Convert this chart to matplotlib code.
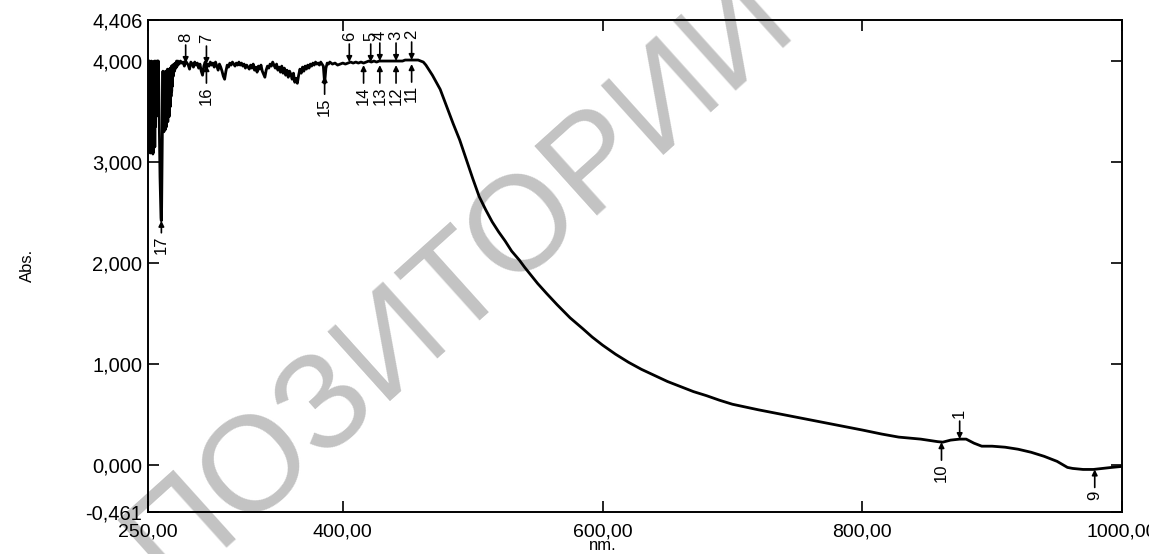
import matplotlib
matplotlib.use("Agg")
import matplotlib.pyplot as plt

# ---- data ----
# noisy start region
wl_start = [250.00, 250.25, 250.50, 250.75, 251.00, 251.25, 251.50, 251.75, 252.00, 252.25,
            252.50, 252.75, 253.00, 253.25, 253.50, 253.75, 254.00, 254.25, 254.50, 254.75,
            255.00, 255.25, 255.50, 255.75, 256.00, 256.25, 256.50, 256.75, 257.00, 257.25,
            257.50, 257.75, 258.00, 258.25, 258.50, 258.75, 259.00, 259.25, 259.50, 259.75,
            260.00, 260.25, 260.50, 260.75, 261.00, 261.25, 261.50, 261.75, 262.00, 262.25,
            262.50, 262.75, 263.00, 263.25, 263.50, 263.75, 264.00, 264.25, 264.50, 264.75,
            265.00, 265.25, 265.50, 265.75, 266.00, 266.25, 266.50, 266.75, 267.00, 267.25,
            267.50, 267.75, 268.00, 268.25, 268.50, 268.75, 269.00, 269.50, 270.00, 270.50,
            271.00, 271.50, 272.00, 272.50, 273.00]
ab_start = [4.00, 3.10, 3.98, 3.14, 4.00, 3.22, 3.95, 3.09, 3.92, 3.18,
            4.00, 3.12, 3.97, 3.25, 3.88, 3.08, 3.75, 3.10, 3.95, 3.30,
            4.00, 3.15, 3.90, 3.35, 4.00, 3.45, 3.98, 3.55, 4.00, 3.70,
            4.00, 3.85, 4.00, 3.80, 3.55, 3.30, 3.05, 2.85, 2.70, 2.55,
            2.45, 2.42, 2.55, 2.90, 3.30, 3.70, 3.90, 3.35, 3.85, 3.30,
            3.88, 3.40, 3.80, 3.32, 3.90, 3.45, 3.85, 3.35, 3.82, 3.50,
            3.92, 3.40, 3.85, 3.55, 3.90, 3.45, 3.88, 3.60, 3.93, 3.55,
            3.90, 3.65, 3.95, 3.70, 3.92, 3.75, 3.96, 3.85, 3.97, 3.90,
            3.98, 3.93, 4.00, 3.95, 4.00]
# saturated plateau
wl_plateau = [274, 275, 276, 277, 278, 279, 280, 281, 282, 283, 284, 285, 286, 287, 288,
              289, 290, 291, 292, 293, 294, 295, 296, 297, 298, 299, 300, 301, 302, 303,
              304, 305, 306, 307, 308, 309, 310, 311, 312, 313, 314, 315, 316, 317, 318,
              319, 320, 321, 322, 323, 324, 325, 326, 327, 328, 329, 330, 331, 332, 333,
              334, 335, 336, 337, 338, 339, 340, 341, 342, 343, 344, 345, 346, 347, 348,
              349, 350, 351, 352, 353, 354, 355, 356, 357, 358, 359, 360, 361, 362, 363,
              364, 365, 366, 367, 368, 369, 370, 371, 372, 373, 374, 375, 376, 377, 378,
              379, 380, 381, 382, 383, 384, 385, 386, 387, 388, 389, 390, 392, 394, 396,
              398, 400, 402, 404, 406, 408, 410, 412, 414, 416, 418, 420, 422, 424, 426,
              428, 430, 432, 434, 436, 438, 440, 442, 444, 446, 448, 450, 452, 454, 456,
              458, 460, 462]
ab_plateau = [3.97, 4.00, 3.98, 3.99, 3.95, 4.00, 3.98, 3.96, 3.92, 3.99, 3.97, 3.94, 3.99, 3.96, 3.98,
              3.93, 3.97, 3.90, 3.86, 3.95, 3.99, 3.93, 3.97, 3.95, 3.99, 3.96, 3.98, 3.94, 3.99, 3.95,
              3.91, 3.97, 3.94, 3.90, 3.85, 3.82, 3.90, 3.96, 3.94, 3.98, 3.96, 3.99, 3.97, 3.95, 3.98,
              3.96, 3.99, 3.96, 3.98, 3.95, 3.97, 3.93, 3.96, 3.94, 3.92, 3.96, 3.93, 3.97, 3.91, 3.94,
              3.89, 3.95, 3.92, 3.96, 3.90, 3.87, 3.84, 3.91, 3.95, 3.93, 3.97, 3.95, 3.99, 3.96, 3.93,
              3.97, 3.91, 3.94, 3.89, 3.95, 3.88, 3.93, 3.86, 3.91, 3.84, 3.90, 3.87, 3.82, 3.88, 3.79,
              3.83, 3.78, 3.86, 3.92, 3.88, 3.94, 3.90, 3.95, 3.92, 3.96, 3.93, 3.97, 3.95, 3.98, 3.96,
              3.99, 3.97, 3.98, 3.96, 3.99, 3.97, 3.95, 3.78, 3.93, 3.98, 3.97, 3.99, 3.97, 3.98, 3.96,
              3.97, 3.98, 3.97, 3.98, 3.99, 3.98, 3.99, 3.98, 3.99, 3.98, 3.99, 4.00, 3.99, 4.00, 3.99,
              4.00, 4.00, 4.00, 4.00, 4.00, 4.00, 4.00, 4.00, 4.00, 4.00, 4.01, 4.01, 4.01, 4.01, 4.01,
              4.01, 4.00, 3.99]
# absorption edge and tail
wl_tail = [464, 466, 469, 472, 475, 480, 485, 490, 495, 500, 505, 510, 515, 520, 525,
           530, 536, 540, 545, 550, 557, 565, 575, 585, 592, 600, 610, 620, 630, 640,
           650, 660, 670, 680, 690, 700, 720, 740, 760, 780, 800, 815, 828, 845, 858,
           862, 868, 875, 880, 886, 892, 900, 910, 920, 930, 940, 950, 958, 962, 970,
           978, 985, 992, 1000]
ab_tail = [3.96, 3.92, 3.86, 3.79, 3.72, 3.55, 3.38, 3.22, 3.03, 2.84, 2.66, 2.53,
           2.41, 2.31, 2.22, 2.12, 2.03, 1.96, 1.88, 1.80, 1.70, 1.59, 1.46, 1.35,
           1.27, 1.19, 1.10, 1.02, 0.95, 0.89, 0.83, 0.78, 0.73, 0.69, 0.645, 0.605,
           0.55, 0.50, 0.45, 0.40, 0.35, 0.31, 0.28, 0.26, 0.235, 0.23, 0.25, 0.26,
           0.26, 0.22, 0.19, 0.19, 0.18, 0.16, 0.13, 0.09, 0.04, -0.02, -0.03, -0.04,
           -0.04, -0.03, -0.02, -0.01]

# labelled peaks / valleys
peak_labels = ["1", "2", "3", "4", "5", "6", "7", "8", "9", "10", "11", "12", "13",
               "14", "15", "16", "17"]
peak_nm = [875, 453, 441, 428.5, 421.5, 405, 295, 279, 979, 861, 453, 441, 428.5,
           416, 386, 295, 260.3]
peak_abs = [0.26, 4.01, 4.00, 4.00, 3.99, 3.99, 3.97, 3.98, -0.04, 0.23, 3.97, 3.96,
            3.96, 3.96, 3.85, 3.96, 2.42]
peak_side = ["up", "up", "up", "up", "up", "up", "up", "up", "down", "down", "down",
             "down", "down", "down", "down", "down", "down"]

x_ticks = [250, 400, 600, 800, 1000]
x_tick_labels = ["250,00", "400,00", "600,00", "800,00", "1000,00"]
y_ticks = [-0.461, 0, 1, 2, 3, 4, 4.406]
y_tick_labels = ["-0,461", "0,000", "1,000", "2,000", "3,000", "4,000", "4,406"]

wl = wl_start + wl_plateau + wl_tail
ab = ab_start + ab_plateau + ab_tail

# ---- figure ----
plt.rcParams["font.family"] = ["Liberation Sans", "DejaVu Sans"]
W, H = 1149, 554
fig = plt.figure(figsize=(W / 100, H / 100), dpi=100)
fig.patch.set_facecolor("white")

# watermark (behind everything)
fig.text(460 / W, 1 - 282 / H, "ПОЗИТОРИЙ", fontsize=97, color="#c3c3c3",
         rotation=42, ha="center", va="center", zorder=-1)

ax = fig.add_axes([148 / W, 1 - 512 / H, (1122 - 148) / W, (512 - 20) / H])
ax.patch.set_alpha(0)
ax.plot(wl, ab, color="black", lw=2.0, solid_joinstyle="round")

ax.set_xlim(250, 1000)
ax.set_ylim(-0.461, 4.406)
ax.set_xticks(x_ticks)
ax.set_xticklabels(x_tick_labels, fontsize=14)
ax.set_yticks(y_ticks)
ax.set_yticklabels(y_tick_labels, fontsize=14.5)
ax.tick_params(direction="in", length=8, width=1.2, top=True, right=True)
ax.tick_params(axis="x", pad=8)
ax.tick_params(axis="y", pad=4)
for s in ax.spines.values():
    s.set_linewidth(1.4)

fig.text(603 / W, 1 - 546 / H, "nm.", fontsize=12, ha="center", va="center")
fig.text(27 / W, 1 - 265 / H, "Abs.", fontsize=12, ha="center", va="center", rotation=90)

px = 0.72  # points per pixel at 100 dpi
for lab, x, y, side in zip(peak_labels, peak_nm, peak_abs, peak_side):
    sgn = 1 if side == "up" else -1
    arr_len = 12 if lab == "17" else 18
    ax.annotate("", xy=(x, y), xytext=(0, sgn * arr_len * px), textcoords="offset points",
                arrowprops=dict(arrowstyle="-|>", color="black", lw=1.2,
                                mutation_scale=8, shrinkA=0, shrinkB=0))
    ax.annotate(lab, xy=(x, y), xytext=(0, sgn * (arr_len + 3) * px),
                textcoords="offset points", rotation=90, ha="center",
                va="bottom" if side == "up" else "top", fontsize=12)

fig.savefig("out.png", dpi=100)
